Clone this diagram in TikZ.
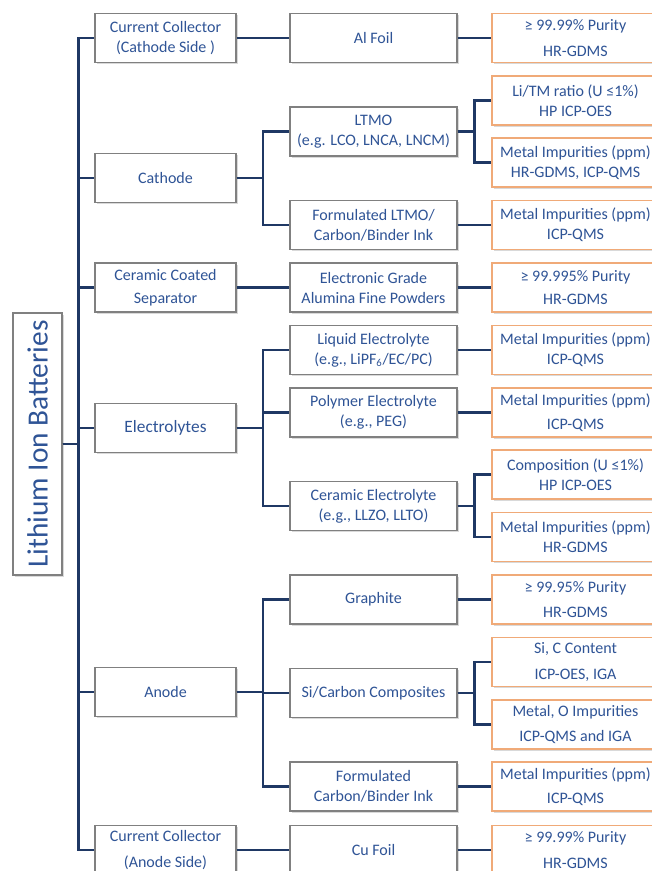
\documentclass[tikz,border=0pt]{standalone}
\usepackage{fontspec}
\setmainfont{Carlito}
\usepackage{xcolor}
\usetikzlibrary{positioning,calc,shadows}
\definecolor{navy}{RGB}{31,56,100}
\definecolor{inkblue}{RGB}{47,84,150}
\definecolor{boxgray}{RGB}{128,128,128}
\definecolor{peach}{RGB}{240,170,120}

\begin{document}
\begin{tikzpicture}[x=0.75pt, y=-0.75pt,
    every node/.style={font=\fontsize{12}{15}\selectfont, text=inkblue, align=center},
    box/.style={draw=boxgray, fill=white, line width=0.8pt, minimum height=36.75pt, inner sep=1pt,
        drop shadow={shadow xshift=1.2pt, shadow yshift=-1.2pt, opacity=0.3}},
    cat/.style={box, minimum width=105.75pt},
    item/.style={box, minimum width=125.25pt},
    test/.style={box, draw=peach, minimum width=125.25pt},
    conn/.style={draw=navy, line width=2.2pt},
    elbow/.style={to path={-| ($(\tikztostart)!0.5!(\tikztotarget)$) |- (\tikztotarget)}}]
    \clip (0,0) rectangle (652,871);

    % Root
    \node[box, minimum width=36.75pt, minimum height=196.5pt] (root) at (37.5, 444)
        {\rotatebox{90}{\fontsize{22}{26}\selectfont Lithium Ion Batteries}};

    % Level 1
    \node[cat] (cc1) at (165.5, 38) {Current Collector\\(Cathode Side )};
    \node[cat] (cath) at (165.5, 178) {Cathode};
    \node[cat] (sep) at (165.5, 287.5) {Ceramic Coated\\[2pt]Separator};
    \node[cat] (elec) at (165.5, 428) {\fontsize{13}{15}\selectfont Electrolytes};
    \node[cat] (anode) at (165.5, 692) {Anode};
    \node[cat] (cc2) at (165.5, 850) {Current Collector\\[4pt](Anode Side)};

    % Level 2
    \node[item] (al) at (373.5, 38) {Al Foil};
    \node[item] (ltmo) at (373.5, 131.5) {LTMO\\(e.g. LCO, LNCA, LNCM)};
    \node[item] (fltmo) at (373.5, 225) {Formulated LTMO/\\Carbon/Binder Ink};
    \node[item] (alum) at (373.5, 287.5) {Electronic Grade\\Alumina Fine Powders};
    \node[item] (liq) at (373.5, 350) {Liquid Electrolyte\\(e.g., LiPF\textsubscript{6}/EC/PC)};
    \node[item] (poly) at (373.5, 412.5) {Polymer Electrolyte\\(e.g., PEG)};
    \node[item] (cer) at (373.5, 506) {Ceramic Electrolyte\\(e.g., LLZO, LLTO)};
    \node[item] (graph) at (373.5, 599.5) {Graphite};
    \node[item] (sic) at (373.5, 693) {Si/Carbon Composites};
    \node[item] (fcarb) at (373.5, 786.5) {Formulated\\Carbon/Binder Ink};
    \node[item] (cu) at (373.5, 850) {Cu Foil};

    % Level 3 - analysis
    \node[test] (alpur) at (575.5, 38) {≥ 99.99\% Purity\\[4pt]HR-GDMS};
    \node[test] (ratio) at (575.5, 100.5) {Li/TM ratio (U ≤1\%)\\HP ICP-OES};
    \node[test] (ltmoimp) at (575.5, 162.5) {Metal Impurities (ppm)\\HR-GDMS, ICP-QMS};
    \node[test] (inkimp) at (575.5, 225) {Metal Impurities (ppm)\\ICP-QMS};
    \node[test] (alumpur) at (575.5, 287.5) {≥ 99.995\% Purity\\[2pt]HR-GDMS};
    \node[test] (liqimp) at (575.5, 350) {Metal Impurities (ppm)\\ICP-QMS};
    \node[test] (polyimp) at (575.5, 412.5) {Metal Impurities (ppm)\\[3pt]ICP-QMS};
    \node[test] (comp) at (575.5, 474.5) {Composition (U ≤1\%)\\HP ICP-OES};
    \node[test] (cerimp) at (575.5, 537) {Metal Impurities (ppm)\\HR-GDMS};
    \node[test] (graphpur) at (575.5, 599.5) {≥ 99.95\% Purity\\[4pt]HR-GDMS};
    \node[test] (content) at (575.5, 662) {Si, C Content\\[4pt]ICP-OES, IGA};
    \node[test] (oimp) at (575.5, 724.5) {Metal, O Impurities\\[4pt]ICP-QMS and IGA};
    \node[test] (carbimp) at (575.5, 786.5) {Metal Impurities (ppm)\\[3pt]ICP-QMS};
    \node[test] (cupur) at (575.5, 850) {≥ 99.99\% Purity\\[4pt]HR-GDMS};

    % Edges
    \draw[conn] (root.east) to[elbow] (cc1.west);
    \draw[conn] (root.east) to[elbow] (cath.west);
    \draw[conn] (root.east) to[elbow] (sep.west);
    \draw[conn] (root.east) to[elbow] (elec.west);
    \draw[conn] (root.east) to[elbow] (anode.west);
    \draw[conn] (root.east) to[elbow] (cc2.west);
    \draw[conn] (cc1.east) to[elbow] (al.west);
    \draw[conn] (cath.east) to[elbow] (ltmo.west);
    \draw[conn] (cath.east) to[elbow] (fltmo.west);
    \draw[conn] (sep.east) to[elbow] (alum.west);
    \draw[conn] (elec.east) to[elbow] (liq.west);
    \draw[conn] (elec.east) to[elbow] (poly.west);
    \draw[conn] (elec.east) to[elbow] (cer.west);
    \draw[conn] (anode.east) to[elbow] (graph.west);
    \draw[conn] (anode.east) to[elbow] (sic.west);
    \draw[conn] (anode.east) to[elbow] (fcarb.west);
    \draw[conn] (cc2.east) to[elbow] (cu.west);
    \draw[conn] (al.east) to[elbow] (alpur.west);
    \draw[conn] (ltmo.east) to[elbow] (ratio.west);
    \draw[conn] (ltmo.east) to[elbow] (ltmoimp.west);
    \draw[conn] (fltmo.east) to[elbow] (inkimp.west);
    \draw[conn] (alum.east) to[elbow] (alumpur.west);
    \draw[conn] (liq.east) to[elbow] (liqimp.west);
    \draw[conn] (poly.east) to[elbow] (polyimp.west);
    \draw[conn] (cer.east) to[elbow] (comp.west);
    \draw[conn] (cer.east) to[elbow] (cerimp.west);
    \draw[conn] (graph.east) to[elbow] (graphpur.west);
    \draw[conn] (sic.east) to[elbow] (content.west);
    \draw[conn] (sic.east) to[elbow] (oimp.west);
    \draw[conn] (fcarb.east) to[elbow] (carbimp.west);
    \draw[conn] (cu.east) to[elbow] (cupur.west);
\end{tikzpicture}
\end{document}
